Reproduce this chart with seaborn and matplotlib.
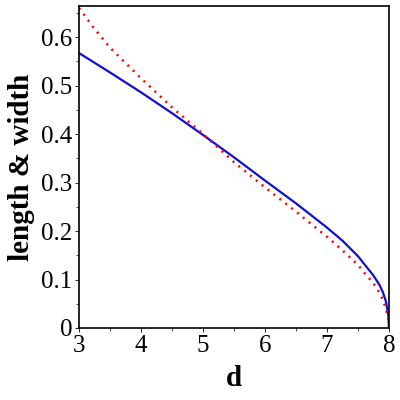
import numpy as np
import pandas as pd
import matplotlib
matplotlib.use("Agg")
import matplotlib.pyplot as plt
from matplotlib.ticker import MultipleLocator
import seaborn as sns

# values
d_blue = [3.0, 3.5, 4.0, 4.5, 5.0, 5.5, 6.0, 6.5, 7.0, 7.25, 7.5, 7.6, 7.75, 7.85, 7.9, 7.95, 7.99, 8.0]
blue = [0.567, 0.527, 0.486, 0.443, 0.398, 0.352, 0.304, 0.257, 0.207, 0.180, 0.148, 0.132, 0.108, 0.088,
        0.074, 0.055, 0.025, 0.0]

d_red = [3.0, 3.25, 3.5, 4.0, 4.5, 5.0, 5.5, 6.0, 6.5, 7.0, 7.25, 7.5, 7.6, 7.75, 7.85, 7.9, 7.95, 7.99, 8.0]
red = [0.660, 0.617, 0.578, 0.515, 0.455, 0.400, 0.342, 0.290, 0.240, 0.188, 0.160, 0.130, 0.114, 0.092,
       0.072, 0.058, 0.040, 0.018, 0.0]

sns.set_style("ticks")
plt.rcParams['font.family'] = ['Liberation Serif', 'DejaVu Serif']
plt.rcParams['text.color'] = 'black'
plt.rcParams['axes.labelcolor'] = 'black'
plt.rcParams['xtick.color'] = 'black'
plt.rcParams['ytick.color'] = 'black'

fig = plt.figure(figsize=(4, 4), dpi=100)
ax = fig.add_axes([0.1975, 0.18, 0.775, 0.805])

sns.lineplot(x=d_blue, y=blue, ax=ax, color='#1010d0', linewidth=1.6)
sns.lineplot(x=d_red, y=red, ax=ax, color='red', linewidth=1.8, linestyle=(0, (0.8, 2.2)))

ax.set_xlim(3, 8)
ax.set_ylim(0, 0.664)
ax.xaxis.set_major_locator(MultipleLocator(1))
ax.xaxis.set_minor_locator(MultipleLocator(0.5))
ax.yaxis.set_minor_locator(MultipleLocator(0.05))
ax.set_yticks([0, 0.1, 0.2, 0.3, 0.4, 0.5, 0.6])
ax.set_yticklabels(['0', '0.1', '0.2', '0.3', '0.4', '0.5', '0.6'])
ax.tick_params(which='major', direction='out', length=3, width=0.6, labelsize=18, pad=2)
ax.tick_params(which='minor', direction='out', length=2, width=0.5)
for s in ax.spines.values():
    s.set_linewidth(1.2)
    s.set_color('black')

ax.set_xlabel('d', fontsize=21, fontweight='bold', labelpad=6)
ax.set_ylabel('length & width', fontsize=21, fontweight='bold', labelpad=4)

fig.savefig('out.png', dpi=100)
